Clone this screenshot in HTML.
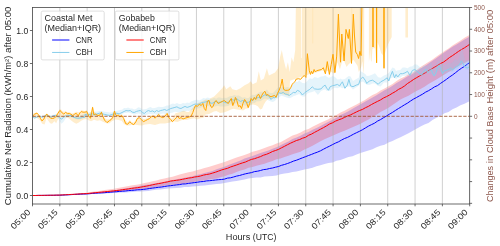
<!DOCTYPE html>
<html><head><meta charset="utf-8"><title>chart</title>
<style>html,body{margin:0;padding:0;background:#fff;overflow:hidden}svg{display:block;will-change:transform}text{font-family:"Liberation Sans",sans-serif}</style>
</head><body>
<svg width="500" height="246" viewBox="0 0 500 246">
<defs><clipPath id="c"><rect x="32.5" y="7.5" width="437.2" height="196.5"/></clipPath></defs>
<rect width="500" height="246" fill="#fff"/>
<g clip-path="url(#c)">
<polygon points="32.5,195.5 36.5,195.4 40.5,195.4 44.5,195.3 48.5,195.2 52.5,195.1 56.5,195.1 60.5,195.0 64.5,194.7 68.5,194.4 72.5,194.2 76.5,193.9 80.5,193.7 84.5,193.4 88.5,193.1 92.5,192.7 96.5,192.2 100.5,191.8 104.5,191.4 108.5,190.9 112.5,190.5 116.5,189.9 120.5,189.3 124.5,188.6 128.5,187.9 132.5,187.3 136.5,186.6 140.5,185.8 144.5,185.1 148.5,184.4 152.5,183.8 156.5,183.1 160.5,182.4 164.5,181.7 168.5,180.8 172.5,180.0 176.5,179.2 180.5,178.4 184.5,177.8 188.5,177.0 192.5,176.2 196.5,175.0 200.5,174.3 204.5,173.0 208.5,172.0 212.5,171.0 216.5,169.3 220.5,167.9 224.5,166.8 228.5,165.0 232.5,163.4 236.5,161.9 240.5,160.5 244.5,158.6 248.5,157.3 252.5,155.9 256.5,154.5 260.5,152.9 264.5,151.7 268.5,150.5 272.5,148.7 276.5,147.3 280.5,145.3 284.5,143.3 288.5,141.5 292.5,139.1 296.5,137.6 300.5,135.8 304.5,133.4 308.5,132.0 312.5,129.7 316.5,128.0 320.5,126.0 324.5,123.7 328.5,121.8 332.5,119.8 336.5,117.7 340.5,115.1 344.5,113.2 348.5,111.2 352.5,108.8 356.5,106.6 360.5,104.2 364.5,102.1 368.5,99.7 372.5,97.5 376.5,95.2 380.5,92.8 384.5,90.3 388.5,88.2 392.5,85.7 396.5,82.9 400.5,80.8 404.5,78.3 408.5,75.7 412.5,74.0 416.5,71.1 420.5,68.6 424.5,66.2 428.5,63.5 432.5,60.8 436.5,58.0 440.5,55.1 444.5,52.3 448.5,49.5 452.5,46.8 456.5,44.6 460.5,42.0 464.5,39.5 468.5,37.2 469.7,36.2 469.7,101.1 468.5,101.7 464.5,103.8 460.5,105.3 456.5,107.4 452.5,109.2 448.5,111.9 444.5,113.3 440.5,116.1 436.5,117.7 432.5,120.1 428.5,122.9 424.5,124.4 420.5,126.6 416.5,128.7 412.5,131.0 408.5,133.3 404.5,135.2 400.5,137.3 396.5,138.9 392.5,140.9 388.5,142.6 384.5,144.8 380.5,145.8 376.5,147.2 372.5,149.2 368.5,150.6 364.5,151.7 360.5,153.0 356.5,154.5 352.5,156.2 348.5,157.1 344.5,158.4 340.5,159.9 336.5,160.7 332.5,162.5 328.5,163.1 324.5,164.0 320.5,165.3 316.5,166.3 312.5,167.7 308.5,168.8 304.5,169.4 300.5,170.6 296.5,171.4 292.5,172.1 288.5,173.1 284.5,173.5 280.5,174.2 276.5,175.4 272.5,176.0 268.5,176.3 264.5,176.4 260.5,177.4 256.5,177.4 252.5,178.1 248.5,178.6 244.5,179.6 240.5,180.3 236.5,181.1 232.5,181.4 228.5,182.3 224.5,183.1 220.5,183.8 216.5,184.0 212.5,184.5 208.5,184.9 204.5,185.6 200.5,185.8 196.5,186.3 192.5,186.6 188.5,187.0 184.5,187.1 180.5,187.8 176.5,188.0 172.5,188.2 168.5,188.6 164.5,188.9 160.5,189.6 156.5,189.8 152.5,190.2 148.5,190.9 144.5,191.2 140.5,191.4 136.5,191.6 132.5,192.1 128.5,192.3 124.5,192.4 120.5,192.6 116.5,192.9 112.5,193.0 108.5,193.3 104.5,193.5 100.5,193.6 96.5,193.8 92.5,194.0 88.5,194.2 84.5,194.4 80.5,194.5 76.5,194.7 72.5,194.9 68.5,195.1 64.5,195.2 60.5,195.4 56.5,195.4 52.5,195.4 48.5,195.4 44.5,195.5 40.5,195.5 36.5,195.5 32.5,195.5" fill="#0000ff" fill-opacity="0.2"/>
<polygon points="32.5,195.5 36.5,195.4 40.5,195.3 44.5,195.2 48.5,195.1 52.5,195.1 56.5,195.0 60.5,194.8 64.5,194.5 68.5,194.2 72.5,193.9 76.5,193.5 80.5,193.2 84.5,192.9 88.5,192.5 92.5,191.8 96.5,191.3 100.5,190.7 104.5,190.1 108.5,189.6 112.5,189.0 116.5,188.2 120.5,187.6 124.5,186.8 128.5,186.0 132.5,185.2 136.5,184.7 140.5,183.9 144.5,183.1 148.5,182.2 152.5,181.3 156.5,180.4 160.5,179.3 164.5,178.6 168.5,177.5 172.5,176.7 176.5,175.6 180.5,174.3 184.5,173.3 188.5,172.2 192.5,171.5 196.5,170.2 200.5,169.2 204.5,167.9 208.5,166.9 212.5,165.7 216.5,164.4 220.5,163.3 224.5,161.9 228.5,160.6 232.5,159.0 236.5,157.6 240.5,156.2 244.5,155.0 248.5,153.4 252.5,151.8 256.5,150.8 260.5,149.5 264.5,148.1 268.5,146.5 272.5,145.2 276.5,143.5 280.5,142.2 284.5,140.0 288.5,137.8 292.5,135.6 296.5,134.3 300.5,132.6 304.5,130.3 308.5,128.9 312.5,126.7 316.5,124.7 320.5,122.8 324.5,121.1 328.5,119.2 332.5,116.8 336.5,115.0 340.5,112.5 344.5,110.7 348.5,108.4 352.5,106.6 356.5,104.6 360.5,102.2 364.5,100.2 368.5,97.5 372.5,95.1 376.5,93.2 380.5,90.6 384.5,88.5 388.5,86.3 392.5,83.9 396.5,81.1 400.5,78.6 404.5,76.8 408.5,74.3 412.5,72.4 416.5,70.1 420.5,67.1 424.5,64.6 428.5,62.0 432.5,59.4 436.5,56.5 440.5,53.7 444.5,50.9 448.5,48.5 452.5,45.6 456.5,42.9 460.5,40.5 464.5,37.8 468.5,35.4 469.7,35.1 469.7,59.9 468.5,60.9 464.5,63.0 460.5,64.9 456.5,67.3 452.5,69.9 448.5,72.1 444.5,74.6 440.5,77.0 436.5,79.6 432.5,81.7 428.5,84.1 424.5,86.8 420.5,89.1 416.5,91.1 412.5,93.3 408.5,95.7 404.5,97.5 400.5,99.4 396.5,102.2 392.5,105.0 388.5,107.8 384.5,110.1 380.5,112.1 376.5,114.7 372.5,116.8 368.5,119.5 364.5,121.6 360.5,123.7 356.5,125.6 352.5,127.3 348.5,129.0 344.5,130.7 340.5,132.3 336.5,134.1 332.5,135.7 328.5,137.4 324.5,139.3 320.5,141.2 316.5,143.6 312.5,145.7 308.5,147.8 304.5,149.6 300.5,151.7 296.5,153.1 292.5,154.2 288.5,155.8 284.5,157.0 280.5,158.4 276.5,159.3 272.5,161.1 268.5,162.3 264.5,163.8 260.5,164.8 256.5,165.7 252.5,166.9 248.5,167.7 244.5,169.5 240.5,170.4 236.5,171.9 232.5,173.7 228.5,174.8 224.5,176.3 220.5,177.2 216.5,178.4 212.5,179.0 208.5,179.6 204.5,180.4 200.5,180.7 196.5,181.5 192.5,182.2 188.5,182.7 184.5,183.4 180.5,183.9 176.5,184.3 172.5,184.8 168.5,185.1 164.5,185.8 160.5,186.4 156.5,187.1 152.5,187.7 148.5,188.2 144.5,188.9 140.5,189.4 136.5,189.7 132.5,190.1 128.5,190.5 124.5,191.0 120.5,191.3 116.5,191.7 112.5,192.1 108.5,192.4 104.5,192.7 100.5,193.0 96.5,193.3 92.5,193.6 88.5,193.9 84.5,194.2 80.5,194.4 76.5,194.5 72.5,194.7 68.5,194.9 64.5,195.1 60.5,195.3 56.5,195.3 52.5,195.4 48.5,195.4 44.5,195.4 40.5,195.4 36.5,195.5 32.5,195.5" fill="#ff0000" fill-opacity="0.2"/>
<path d="M32.50 7.5V204.0M59.83 7.5V204.0M87.15 7.5V204.0M114.47 7.5V204.0M141.80 7.5V204.0M169.12 7.5V204.0M196.45 7.5V204.0M223.78 7.5V204.0M251.10 7.5V204.0M278.42 7.5V204.0M305.75 7.5V204.0M333.07 7.5V204.0M360.40 7.5V204.0M387.72 7.5V204.0M415.05 7.5V204.0M442.38 7.5V204.0M469.70 7.5V204.0" stroke="#b0b0b0" stroke-width="0.6" fill="none"/>
<polyline points="32.5,195.5 35.5,195.5 38.5,195.4 41.5,195.4 44.5,195.4 47.5,195.3 50.5,195.3 53.5,195.3 56.5,195.2 59.5,195.2 62.5,195.1 65.5,194.9 68.5,194.8 71.5,194.6 74.5,194.4 77.5,194.3 80.5,194.1 83.5,194.0 86.5,193.9 89.5,193.7 92.5,193.4 95.5,193.2 98.5,193.0 101.5,192.9 104.5,192.7 107.5,192.4 110.5,192.2 113.5,191.9 116.5,191.7 119.5,191.4 122.5,191.2 125.5,191.0 128.5,190.6 131.5,190.4 134.5,190.2 137.5,189.8 140.5,189.7 143.5,189.4 146.5,189.0 149.5,188.5 152.5,188.1 155.5,187.7 158.5,187.3 161.5,187.0 164.5,186.5 167.5,186.0 170.5,185.7 173.5,185.3 176.5,184.9 179.5,184.6 182.5,184.0 185.5,183.9 188.5,183.4 191.5,183.0 194.5,182.6 197.5,182.2 200.5,181.7 203.5,181.5 206.5,180.9 209.5,180.7 212.5,180.4 215.5,180.0 218.5,179.7 221.5,179.5 224.5,179.1 227.5,178.1 230.5,177.8 233.5,177.0 236.5,176.1 239.5,175.5 242.5,174.6 245.5,173.8 248.5,173.2 251.5,172.6 254.5,171.6 257.5,171.2 260.5,170.5 263.5,169.6 266.5,169.3 269.5,168.5 272.5,168.0 275.5,167.2 278.5,166.5 281.5,165.3 284.5,164.5 287.5,163.5 290.5,162.4 293.5,161.1 296.5,160.2 299.5,159.0 302.5,157.8 305.5,156.7 308.5,155.5 311.5,154.4 314.5,153.2 317.5,152.1 320.5,150.8 323.5,149.2 326.5,147.6 329.5,146.2 332.5,144.6 335.5,143.1 338.5,141.8 341.5,140.1 344.5,138.5 347.5,137.4 350.5,135.8 353.5,134.2 356.5,132.7 359.5,131.3 362.5,129.7 365.5,127.9 368.5,126.1 371.5,124.6 374.5,123.2 377.5,121.1 380.5,119.6 383.5,117.7 386.5,116.0 389.5,114.1 392.5,112.4 395.5,110.4 398.5,108.5 401.5,106.7 404.5,104.8 407.5,103.1 410.5,101.0 413.5,99.1 416.5,97.5 419.5,95.8 422.5,94.2 425.5,92.2 428.5,90.7 431.5,88.9 434.5,86.9 437.5,85.6 440.5,83.4 443.5,81.4 446.5,79.3 449.5,77.0 452.5,75.0 455.5,72.7 458.5,70.3 461.5,68.2 464.5,66.4 467.5,64.0 469.7,62.7" fill="none" stroke="#0000ff" stroke-width="1.0" stroke-linejoin="round"/>
<polyline points="32.5,195.5 35.5,195.5 38.5,195.4 41.5,195.4 44.5,195.3 47.5,195.3 50.5,195.2 53.5,195.2 56.5,195.1 59.5,195.1 62.5,194.9 65.5,194.8 68.5,194.6 71.5,194.4 74.5,194.3 77.5,194.1 80.5,193.9 83.5,193.7 86.5,193.6 89.5,193.3 92.5,193.0 95.5,192.7 98.5,192.4 101.5,192.1 104.5,191.8 107.5,191.5 110.5,191.2 113.5,190.9 116.5,190.5 119.5,190.2 122.5,189.7 125.5,189.3 128.5,188.9 131.5,188.4 134.5,188.0 137.5,187.7 140.5,187.2 143.5,186.6 146.5,186.1 149.5,185.5 152.5,184.8 155.5,184.2 158.5,183.6 161.5,183.1 164.5,182.4 167.5,181.9 170.5,181.1 173.5,180.7 176.5,180.3 179.5,179.9 182.5,179.3 185.5,178.7 188.5,178.1 191.5,177.7 194.5,177.0 197.5,176.6 200.5,176.0 203.5,175.1 206.5,174.5 209.5,174.0 212.5,173.1 215.5,172.2 218.5,171.1 221.5,170.0 224.5,169.1 227.5,168.3 230.5,167.0 233.5,166.0 236.5,165.0 239.5,163.9 242.5,162.9 245.5,162.0 248.5,160.6 251.5,159.4 254.5,158.7 257.5,157.6 260.5,156.6 263.5,155.2 266.5,154.3 269.5,153.0 272.5,151.5 275.5,150.5 278.5,149.4 281.5,147.8 284.5,146.3 287.5,144.7 290.5,143.2 293.5,141.8 296.5,140.5 299.5,139.6 302.5,138.2 305.5,137.3 308.5,135.3 311.5,134.1 314.5,132.4 317.5,130.8 320.5,129.2 323.5,127.6 326.5,125.9 329.5,124.0 332.5,122.8 335.5,121.1 338.5,119.9 341.5,118.8 344.5,117.4 347.5,116.0 350.5,114.9 353.5,113.4 356.5,111.9 359.5,110.5 362.5,109.4 365.5,107.7 368.5,106.3 371.5,104.5 374.5,102.9 377.5,101.4 380.5,99.9 383.5,98.0 386.5,96.6 389.5,95.0 392.5,93.2 395.5,91.5 398.5,89.4 401.5,87.9 404.5,86.0 407.5,83.5 410.5,81.6 413.5,79.5 416.5,77.7 419.5,76.0 422.5,74.3 425.5,72.7 428.5,70.7 431.5,69.0 434.5,67.2 437.5,65.4 440.5,63.5 443.5,62.1 446.5,59.9 449.5,57.5 452.5,55.6 455.5,53.5 458.5,51.4 461.5,49.5 464.5,47.8 467.5,45.8 469.7,44.3" fill="none" stroke="#ff0000" stroke-width="1.0" stroke-linejoin="round"/>
<polygon points="32.9,116.6 34.7,116.5 36.5,116.4 38.7,115.8 40.5,115.8 42.8,115.6 45.0,114.8 46.8,114.6 49.0,115.1 51.3,115.4 53.0,114.8 55.7,114.6 58.0,115.2 59.8,116.7 61.5,116.9 63.8,115.7 65.6,115.0 67.8,114.3 70.0,114.4 72.0,114.3 72.7,114.5 75.1,115.4 77.6,116.0 80.0,115.7 82.4,114.4 84.9,113.6 85.0,113.5 87.4,112.9 89.9,112.0 92.3,112.2 94.8,111.8 97.2,111.6 99.6,111.1 102.1,111.3 104.5,111.8 107.0,112.1 109.4,112.6 111.8,112.2 114.3,111.3 116.7,110.9 119.1,110.2 120.0,110.1 122.0,109.7 124.1,108.1 126.1,108.2 128.1,107.5 130.2,108.4 132.2,108.5 134.2,109.4 136.3,108.8 138.3,107.3 140.3,107.8 142.4,109.4 144.4,109.2 146.4,109.1 148.5,107.7 150.5,107.1 152.5,108.2 154.6,108.0 156.6,107.6 158.6,106.8 160.7,106.9 162.7,106.9 164.7,106.6 166.7,105.6 168.8,105.4 170.8,104.3 172.8,103.5 174.9,103.9 176.9,103.1 178.9,103.9 181.0,103.9 183.0,103.1 185.0,103.4 187.1,102.4 189.1,103.0 191.1,101.4 193.2,100.8 195.2,100.0 197.2,99.8 199.3,100.4 201.3,99.5 203.3,98.1 205.4,98.5 207.4,97.5 209.4,98.1 210.0,98.8 212.0,98.7 214.1,97.7 216.1,98.8 218.1,97.5 220.2,97.6 222.2,98.3 224.2,97.8 226.3,97.9 228.3,97.0 230.3,95.9 232.4,96.1 234.4,94.9 236.4,95.7 238.5,95.6 240.5,96.4 242.5,97.8 244.6,97.3 246.6,98.0 248.6,98.1 250.7,96.1 252.7,94.7 254.7,95.1 256.7,94.0 258.8,92.6 260.8,91.7 262.8,91.8 264.9,91.2 266.9,89.6 268.9,92.5 271.0,93.0 273.0,93.0 275.0,90.9 277.1,88.6 279.1,86.8 281.1,87.7 283.2,86.5 285.2,87.7 287.2,87.1 289.3,87.7 291.3,85.9 293.3,83.8 295.4,81.7 297.4,81.9 299.4,79.9 300.0,81.2 302.4,82.9 304.9,83.3 307.3,80.9 309.8,78.2 312.2,79.0 314.6,76.9 317.9,77.9 321.1,76.6 323.6,76.3 325.2,75.2 326.8,76.8 328.5,77.8 330.1,77.4 332.5,76.0 335.0,76.9 337.4,79.5 339.8,79.2 340.0,78.4 342.4,79.5 344.9,79.0 347.3,77.0 348.9,76.0 350.6,76.4 353.0,81.0 356.3,78.9 358.7,77.7 360.3,71.0 362.8,72.6 365.2,74.0 366.8,76.0 369.3,75.7 372.5,74.4 375.0,73.2 378.2,77.3 380.7,77.8 383.9,75.4 387.2,74.2 388.8,73.0 390.4,70.6 392.4,67.6 394.5,68.3 396.1,71.1 397.7,70.3 400.2,69.9 402.6,67.4 405.0,67.5 407.5,68.3 409.9,66.7 412.4,66.3 414.8,64.3 417.2,64.8 421.3,68.3 423.0,65.7 424.6,65.2 426.2,66.1 427.8,66.1 429.5,63.8 431.1,61.9 432.7,67.4 434.3,68.2 436.0,64.5 437.6,61.1 439.2,60.3 440.9,64.0 442.5,64.0 444.1,65.8 446.5,64.1 449.0,62.3 450.6,63.5 452.2,62.5 455.5,58.8 457.5,60.8 459.4,56.9 461.4,46.4 463.3,53.6 465.3,60.6 467.2,60.3 469.6,60.2 469.6,69.7 467.2,69.8 465.3,69.5 463.3,66.6 461.4,65.6 459.4,67.1 457.5,69.4 455.5,69.1 452.2,72.3 450.6,71.7 449.0,71.7 446.5,73.5 444.1,74.7 442.5,74.4 440.9,71.9 439.2,70.7 437.6,71.5 436.0,75.3 434.3,76.8 432.7,75.9 431.1,74.2 429.5,73.5 427.8,73.4 426.2,73.6 424.6,73.4 423.0,75.3 421.3,76.6 417.2,73.3 414.8,72.9 412.4,74.3 409.9,75.2 407.5,75.5 405.0,75.7 402.6,75.8 400.2,77.7 397.7,77.7 396.1,79.0 394.5,77.5 392.4,77.5 390.4,78.6 388.8,80.5 387.2,82.5 383.9,82.6 380.7,86.4 378.2,86.0 375.0,83.4 372.5,83.6 369.3,85.0 366.8,84.8 365.2,83.4 362.8,81.6 360.3,82.6 358.7,85.7 356.3,87.2 353.0,89.6 350.6,87.3 348.9,86.2 347.3,87.1 344.9,87.4 342.4,88.3 340.0,87.1 339.8,87.2 337.4,88.3 335.0,87.8 332.5,88.7 330.1,90.9 328.5,90.7 326.8,90.9 325.2,89.4 323.6,89.7 321.1,91.0 317.9,95.0 314.6,90.9 312.2,91.9 309.8,92.5 307.3,93.6 304.9,96.4 302.4,96.6 300.0,95.1 299.4,94.1 297.4,94.8 295.4,95.5 293.3,96.3 291.3,97.4 289.3,98.2 287.2,97.7 285.2,97.0 283.2,96.3 281.1,95.7 279.1,97.6 277.1,98.6 275.0,100.7 273.0,102.0 271.0,101.5 268.9,100.7 266.9,99.0 264.9,98.5 262.8,99.4 260.8,101.1 258.8,101.3 256.7,101.2 254.7,102.9 252.7,102.8 250.7,105.0 248.6,104.9 246.6,105.8 244.6,105.6 242.5,105.0 240.5,104.4 238.5,103.3 236.4,103.3 234.4,103.7 232.4,104.5 230.3,104.4 228.3,106.1 226.3,106.3 224.2,106.6 222.2,106.4 220.2,106.4 218.1,105.7 216.1,106.3 214.1,106.6 212.0,106.9 210.0,106.6 209.4,106.1 207.4,106.2 205.4,106.0 203.3,106.9 201.3,107.5 199.3,108.2 197.2,108.4 195.2,108.5 193.2,109.5 191.1,110.2 189.1,111.0 187.1,110.8 185.0,111.6 183.0,112.1 181.0,111.9 178.9,112.4 176.9,112.0 174.9,111.7 172.8,112.4 170.8,112.9 168.8,113.5 166.7,113.9 164.7,113.7 162.7,113.6 160.7,114.1 158.6,114.5 156.6,114.8 154.6,114.1 152.5,114.5 150.5,114.1 148.5,114.0 146.4,114.9 144.4,115.7 142.4,115.1 140.3,114.1 138.3,113.6 136.3,114.1 134.2,114.5 132.2,113.7 130.2,113.1 128.1,112.5 126.1,113.1 124.1,113.1 122.0,114.6 120.0,114.8 119.1,114.7 116.7,115.4 114.3,115.4 111.8,116.2 109.4,116.7 107.0,116.3 104.5,116.2 102.1,115.2 99.6,115.0 97.2,115.5 94.8,116.0 92.3,116.1 89.9,115.8 87.4,116.7 85.0,117.6 84.9,117.5 82.4,118.1 80.0,119.4 77.6,119.4 75.1,118.9 72.7,117.8 72.0,117.6 70.0,117.5 67.8,117.3 65.6,118.4 63.8,121.5 61.5,123.8 59.8,121.3 58.0,118.4 55.7,117.2 53.0,117.5 51.3,117.8 49.0,117.4 46.8,116.8 45.0,117.0 42.8,117.7 40.5,117.7 38.7,117.8 36.5,118.1 34.7,118.2 32.9,118.3" fill="#87ceeb" fill-opacity="0.22"/>
<polygon points="32.9,113.8 34.7,113.0 36.9,112.2 38.7,114.0 40.5,117.0 41.9,118.7 43.7,116.9 45.4,114.5 46.8,113.2 48.1,114.6 50.4,116.6 52.2,116.5 54.4,116.3 56.2,114.3 58.0,111.9 59.8,109.3 61.1,109.6 62.4,111.3 63.8,111.7 65.6,111.4 67.4,112.1 69.6,112.0 72.0,113.8 72.7,113.3 74.5,112.8 76.3,111.7 78.2,112.2 80.0,111.9 81.2,110.0 83.0,110.5 84.9,111.2 85.0,111.1 86.8,110.1 88.7,114.4 90.5,112.2 91.7,111.1 92.6,105.7 93.8,111.2 95.4,112.9 97.2,114.1 99.0,113.5 100.2,113.1 101.5,110.8 102.7,114.1 104.5,117.9 107.0,119.4 109.4,119.2 111.2,117.9 113.0,113.8 114.5,109.9 115.5,113.2 117.0,112.7 118.5,114.3 119.8,114.8 120.0,114.6 122.0,114.3 123.7,117.5 125.7,120.5 127.7,122.4 129.8,119.9 131.8,122.3 133.8,122.4 135.9,119.9 137.3,117.6 139.3,116.2 141.3,118.4 143.4,118.9 145.4,118.9 147.4,118.0 149.5,117.4 151.5,115.0 153.5,115.1 155.0,116.1 156.6,115.6 158.6,113.1 160.2,114.8 162.7,115.6 164.7,114.5 166.3,112.9 167.2,112.5 168.8,115.3 170.8,118.7 172.4,118.5 175.4,113.2 179.0,112.6 182.1,111.3 183.9,110.7 187.0,112.0 188.8,112.0 191.2,109.5 193.7,106.5 196.1,104.4 197.3,103.2 202.2,101.3 205.9,99.5 209.5,100.1 210.0,98.5 214.1,96.4 218.1,92.4 222.2,88.3 224.2,85.2 226.3,89.3 230.3,86.3 232.4,89.3 236.4,90.3 240.5,88.3 244.6,85.2 248.6,83.2 250.7,81.2 252.7,84.2 256.7,82.2 258.8,71.3 260.8,80.5 263.9,78.5 266.9,68.3 268.9,75.4 271.0,74.4 275.0,72.4 278.1,68.3 280.0,57.3 281.8,50.0 283.7,59.8 286.1,69.5 287.9,62.2 289.8,72.0 291.6,57.3 293.4,62.2 295.2,50.0 295.9,3.7 300.9,-50.0 301.1,58.0 301.7,58.0 301.9,-50.0 364.2,-50.0 364.2,61.0 363.6,74.4 362.4,61.0 361.2,67.1 358.8,72.0 357.6,65.9 355.1,62.2 353.3,59.8 350.9,62.2 348.4,64.6 346.6,67.1 344.1,61.0 342.3,61.0 339.9,69.5 337.4,62.2 335.0,73.2 333.7,73.3 330.7,71.7 327.6,70.9 322.5,70.5 316.4,72.5 310.3,73.5 306.3,75.6 302.2,76.6 296.1,78.6 290.0,80.7 289.3,96.4 287.2,95.4 283.2,94.4 280.0,93.5 277.3,95.4 274.9,97.8 272.4,99.0 270.0,98.4 267.6,99.6 265.7,101.5 263.9,104.5 262.1,108.8 260.2,109.4 257.8,106.3 255.4,105.1 252.9,104.5 250.5,105.1 248.7,108.2 245.6,108.8 243.2,110.6 240.7,110.0 237.1,109.4 233.4,108.8 231.0,109.4 227.3,111.2 223.7,112.4 220.0,113.0 218.8,112.2 216.3,111.0 213.9,111.6 211.5,112.8 209.0,114.0 205.4,114.6 203.5,117.7 200.5,118.3 196.8,119.5 194.4,118.3 190.7,118.9 187.1,120.1 182.2,120.1 177.3,122.0 173.7,121.3 170.0,122.6 165.0,123.5 160.0,123.6 155.0,125.0 150.0,124.0 145.0,124.6 142.0,125.4 138.7,125.2 133.8,124.4 129.0,125.6 126.5,125.4 124.0,124.0 121.6,120.7 118.5,120.0 115.5,119.5 111.8,121.3 109.5,123.2 107.0,123.6 103.3,122.0 100.0,120.2 97.2,120.7 94.0,119.8 91.1,121.3 88.5,120.3 86.1,118.9 83.7,119.5 81.2,120.7 78.8,122.6 76.3,123.8 73.9,122.6 71.5,120.7 69.0,118.5 66.6,117.5 63.0,117.2 59.3,117.5 57.8,119.5 56.2,123.2 54.4,121.3 52.0,123.8 50.1,123.2 48.3,120.7 46.5,118.3 44.6,124.4 42.2,123.8 40.4,120.7 38.5,119.0 36.0,117.4 32.5,117.4" fill="#ffa500" fill-opacity="0.2"/>
<polygon points="368.9,-50.0 368.9,62.0 369.5,58.0 370.2,49.5 370.8,60.0 371.6,62.0 372.4,49.0 373.3,48.3 375.1,48.3 375.9,58.0 376.5,63.0 377.1,50.0 377.6,42.2 379.4,47.0 381.2,53.2 382.4,54.4 383.4,56.0 384.0,68.0 384.6,54.4 386.1,49.5 387.9,44.6 391.6,37.3 391.7,37.0 391.7,-50.0" fill="#ffa500" fill-opacity="0.2"/>
<polygon points="405.4,-50.0 405.4,37.6 408.0,37.6 408.0,-50.0" fill="#ffa500" fill-opacity="0.2"/>
<rect x="312.4" y="0" width="0.8" height="43.4" fill="#ffa500" fill-opacity="0.12"/>
<rect x="351.4" y="0" width="0.8" height="46" fill="#ffa500" fill-opacity="0.12"/>
<polyline points="32.9,116.7 34.7,118.1 36.5,117.2 38.7,116.3 40.5,116.7 42.8,117.2 45.0,115.8 46.8,114.9 49.0,116.3 51.3,117.2 53.0,115.8 55.7,115.4 58.0,116.3 59.8,118.1 61.5,119.0 63.8,117.2 65.6,115.8 67.8,115.8 70.0,115.4 72.0,115.8 72.7,116.8 75.1,117.7 77.6,118.3 80.0,118.0 82.4,117.7 84.9,117.1 85.0,114.4 87.4,115.0 89.9,114.4 92.3,113.8 94.8,115.0 97.2,113.8 99.6,113.2 102.1,113.8 104.5,114.4 107.0,115.0 109.4,115.4 111.8,114.4 114.3,113.8 116.7,113.2 119.1,113.8 120.0,113.5 122.0,112.5 124.1,111.5 126.1,110.5 128.1,110.9 130.2,110.5 132.2,112.1 134.2,112.5 136.3,111.5 138.3,110.9 140.3,110.5 142.4,112.5 144.4,113.5 146.4,111.5 148.5,110.5 150.5,111.5 152.5,110.9 154.6,112.1 156.6,110.5 158.6,111.5 160.7,110.5 162.7,110.1 164.7,109.5 166.7,110.5 168.8,109.5 170.8,108.5 172.8,108.0 174.9,107.4 176.9,106.8 178.9,108.0 181.0,108.5 183.0,107.4 185.0,106.4 187.1,107.4 189.1,106.8 191.1,106.0 193.2,104.8 195.2,104.0 197.2,104.4 199.3,104.0 201.3,102.8 203.3,102.4 205.4,102.0 207.4,101.3 209.4,102.0 210.0,102.5 212.0,103.5 214.1,102.1 216.1,101.5 218.1,102.5 220.2,102.1 222.2,101.5 224.2,102.1 226.3,102.9 228.3,102.1 230.3,100.5 232.4,99.5 234.4,100.5 236.4,98.5 238.5,100.1 240.5,101.5 242.5,100.5 244.6,101.5 246.6,102.5 248.6,102.1 250.7,100.5 252.7,100.1 254.7,98.5 256.7,98.0 258.8,97.4 260.8,98.0 262.8,96.0 264.9,94.8 266.9,95.4 268.9,96.0 271.0,99.5 273.0,97.4 275.0,98.0 277.1,94.8 279.1,92.8 281.1,93.4 283.2,92.4 285.2,94.0 287.2,94.4 289.3,95.4 291.3,94.0 293.3,92.4 295.4,92.8 297.4,90.3 299.4,91.3 300.0,91.7 302.4,95.0 304.9,92.5 307.3,90.9 309.8,89.3 312.2,86.8 314.6,88.9 317.9,89.3 321.1,88.9 323.6,86.0 325.2,85.2 326.8,88.5 328.5,90.1 330.1,86.8 332.5,85.7 335.0,85.2 337.4,84.4 339.8,86.0 340.0,85.1 342.4,81.8 344.9,88.3 347.3,85.1 348.9,79.4 350.6,85.9 353.0,86.7 356.3,85.1 358.7,84.3 360.3,79.4 362.8,77.0 365.2,80.2 366.8,83.5 369.3,81.0 372.5,80.2 375.0,81.8 378.2,84.3 380.7,81.8 383.9,80.2 387.2,77.8 388.8,81.0 390.4,76.1 392.4,71.3 394.5,77.8 396.1,74.5 397.7,77.0 400.2,73.7 402.6,73.7 405.0,72.9 407.5,71.3 409.9,75.3 412.4,70.4 414.8,69.6 417.2,71.3 421.3,75.1 423.0,72.6 424.6,70.2 426.2,69.4 427.8,72.6 429.5,71.0 431.1,69.4 432.7,73.5 434.3,75.9 436.0,72.6 437.6,67.8 439.2,65.3 440.9,69.4 442.5,73.5 444.1,71.0 446.5,70.2 449.0,69.4 450.6,67.8 452.2,70.2 455.5,67.3 457.5,66.0 459.4,64.7 461.4,60.8 463.3,64.1 465.3,67.3 467.2,68.0 469.6,66.7" fill="none" stroke="#87ceeb" stroke-width="1.0" stroke-linejoin="round"/>
<polyline points="32.9,115.8 34.7,114.1 36.9,113.2 38.7,114.9 40.5,118.5 41.9,120.8 43.7,119.4 45.4,115.8 46.8,114.1 48.1,115.8 50.4,118.1 52.2,118.5 54.4,118.1 56.2,116.3 58.0,113.2 59.8,110.5 61.1,111.4 62.4,113.2 63.8,114.1 65.6,112.3 67.4,113.6 69.6,113.6 72.0,114.9 72.7,115.9 74.5,114.0 76.3,113.4 78.2,115.9 80.0,112.8 81.2,111.6 83.0,112.2 84.9,112.2 85.0,112.2 86.8,111.6 88.7,115.9 90.5,118.3 91.7,112.2 92.6,107.3 93.8,114.6 95.4,114.0 97.2,115.2 99.0,115.6 100.2,114.6 101.5,112.2 102.7,115.9 104.5,120.1 107.0,122.6 109.4,120.7 111.2,119.5 113.0,117.1 114.5,111.0 115.5,114.6 117.0,115.9 118.5,115.2 119.8,117.1 120.0,116.6 122.0,115.6 123.7,118.6 125.7,123.7 127.7,124.3 129.8,121.7 131.8,123.7 133.8,124.7 135.9,121.7 137.3,118.6 139.3,117.6 141.3,119.6 143.4,121.7 145.4,120.7 147.4,119.6 149.5,118.6 151.5,116.6 153.5,116.2 155.0,118.2 156.6,116.6 158.6,114.6 160.2,116.6 162.7,117.6 164.7,116.6 166.3,114.6 167.2,113.5 168.8,117.6 170.8,119.6 172.4,121.7 174.5,119.6 176.5,117.6 177.9,116.2 179.3,118.6 181.0,117.6 183.0,119.0 185.0,118.2 187.1,117.6 189.1,117.0 191.1,116.2 192.8,112.5 194.2,108.5 195.6,105.4 197.2,106.4 199.3,104.4 201.3,105.4 202.9,103.4 204.3,108.5 205.8,110.5 207.4,101.3 209.0,100.3 210.0,104.6 211.6,107.6 213.0,106.6 214.5,102.5 216.1,100.5 218.1,103.5 220.2,102.5 222.2,101.5 224.2,100.5 226.3,102.1 228.3,103.5 229.9,100.5 231.3,98.5 232.8,105.6 234.4,101.5 235.4,97.4 236.8,100.5 238.5,106.6 240.1,105.6 241.5,108.6 242.9,103.5 244.6,99.5 246.6,102.5 248.2,107.6 249.6,103.5 251.1,98.5 252.7,100.5 254.3,97.4 255.7,99.5 257.2,95.4 258.8,94.4 260.4,98.5 261.8,95.4 263.3,92.8 264.9,91.3 266.5,95.4 267.9,94.4 269.3,96.0 271.0,96.8 273.0,96.0 274.6,95.4 276.1,97.4 277.5,93.4 279.1,90.3 280.7,86.3 282.2,79.1 283.6,89.3 285.2,90.3 287.2,90.3 289.3,89.9 290.9,87.3 292.3,84.2 293.7,82.6 295.4,81.2 295.9,79.3 298.3,78.7 300.7,79.3 302.6,76.8 304.4,75.6 305.9,77.4 307.4,53.7 309.3,70.7 310.5,74.4 311.5,71.3 312.7,73.8 314.1,69.5 315.4,72.0 316.6,70.7 319.0,70.1 321.5,69.5 323.3,67.7 325.4,73.8 327.3,61.6 329.4,74.4 331.2,64.6 333.0,54.3 334.9,72.6 336.7,56.1 338.4,14.1 340.5,62.2 341.8,34.0 344.1,61.0 346.0,29.4 347.2,34.0 348.3,38.5 349.4,29.4 350.9,53.0 351.5,63.4 353.3,14.1 354.5,36.0 355.7,52.0 357.4,54.6 358.6,58.5 359.9,51.3 361.1,55.6 362.3,-20.0" fill="none" stroke="#ffa500" stroke-width="1.0" stroke-linejoin="round"/>
<polyline points="372.8,-20.0 373.0,47.0 373.2,-20.0" fill="none" stroke="#ffa500" stroke-width="1.0" stroke-linejoin="round"/>
<polyline points="376.4,-20.0 376.6,62.8 376.8,-20.0" fill="none" stroke="#ffa500" stroke-width="1.0" stroke-linejoin="round"/>
<polyline points="383.8,-20.0 384.0,68.3 384.2,-20.0" fill="none" stroke="#ffa500" stroke-width="1.0" stroke-linejoin="round"/>
<path d="M32.5 116.3H469.7" stroke="#a0522d" stroke-width="0.85" stroke-dasharray="3.3 1.486" fill="none"/>
</g>
<rect x="32.5" y="7.5" width="437.2" height="196.5" fill="none" stroke="#464646" stroke-width="0.8"/>
<path d="M32.50 204.0v2.3M59.83 204.0v2.3M87.15 204.0v2.3M114.47 204.0v2.3M141.80 204.0v2.3M169.12 204.0v2.3M196.45 204.0v2.3M223.78 204.0v2.3M251.10 204.0v2.3M278.42 204.0v2.3M305.75 204.0v2.3M333.07 204.0v2.3M360.40 204.0v2.3M387.72 204.0v2.3M415.05 204.0v2.3M442.38 204.0v2.3M469.70 204.0v2.3M32.5 195.50h-2.6M32.5 162.50h-2.6M32.5 129.50h-2.6M32.5 96.50h-2.6M32.5 63.50h-2.6M32.5 30.50h-2.6M469.7 203.34h2.4M469.7 181.58h2.4M469.7 159.82h2.4M469.7 138.06h2.4M469.7 116.30h2.4M469.7 94.54h2.4M469.7 72.78h2.4M469.7 51.02h2.4M469.7 29.26h2.4M469.7 7.50h2.4" stroke="#464646" stroke-width="0.8" fill="none"/>
<g font-family="Liberation Sans, sans-serif" fill="#262626" opacity="0.999">
<text x="28.3" y="198.5" font-size="8.3" text-anchor="end" textLength="12" lengthAdjust="spacingAndGlyphs">0.0</text>
<text x="28.3" y="165.5" font-size="8.3" text-anchor="end" textLength="12" lengthAdjust="spacingAndGlyphs">0.2</text>
<text x="28.3" y="132.5" font-size="8.3" text-anchor="end" textLength="12" lengthAdjust="spacingAndGlyphs">0.4</text>
<text x="28.3" y="99.5" font-size="8.3" text-anchor="end" textLength="12" lengthAdjust="spacingAndGlyphs">0.6</text>
<text x="28.3" y="66.5" font-size="8.3" text-anchor="end" textLength="12" lengthAdjust="spacingAndGlyphs">0.8</text>
<text x="28.3" y="33.5" font-size="8.3" text-anchor="end" textLength="12" lengthAdjust="spacingAndGlyphs">1.0</text>
<text transform="translate(31.0,212.8) rotate(-45)" font-size="8.3" text-anchor="end" textLength="24" lengthAdjust="spacingAndGlyphs">05:00</text>
<text transform="translate(58.3,212.8) rotate(-45)" font-size="8.3" text-anchor="end" textLength="24" lengthAdjust="spacingAndGlyphs">05:15</text>
<text transform="translate(85.7,212.8) rotate(-45)" font-size="8.3" text-anchor="end" textLength="24" lengthAdjust="spacingAndGlyphs">05:30</text>
<text transform="translate(113.0,212.8) rotate(-45)" font-size="8.3" text-anchor="end" textLength="24" lengthAdjust="spacingAndGlyphs">05:45</text>
<text transform="translate(140.3,212.8) rotate(-45)" font-size="8.3" text-anchor="end" textLength="24" lengthAdjust="spacingAndGlyphs">06:00</text>
<text transform="translate(167.6,212.8) rotate(-45)" font-size="8.3" text-anchor="end" textLength="24" lengthAdjust="spacingAndGlyphs">06:15</text>
<text transform="translate(194.9,212.8) rotate(-45)" font-size="8.3" text-anchor="end" textLength="24" lengthAdjust="spacingAndGlyphs">06:30</text>
<text transform="translate(222.3,212.8) rotate(-45)" font-size="8.3" text-anchor="end" textLength="24" lengthAdjust="spacingAndGlyphs">06:45</text>
<text transform="translate(249.6,212.8) rotate(-45)" font-size="8.3" text-anchor="end" textLength="24" lengthAdjust="spacingAndGlyphs">07:00</text>
<text transform="translate(276.9,212.8) rotate(-45)" font-size="8.3" text-anchor="end" textLength="24" lengthAdjust="spacingAndGlyphs">07:15</text>
<text transform="translate(304.2,212.8) rotate(-45)" font-size="8.3" text-anchor="end" textLength="24" lengthAdjust="spacingAndGlyphs">07:30</text>
<text transform="translate(331.6,212.8) rotate(-45)" font-size="8.3" text-anchor="end" textLength="24" lengthAdjust="spacingAndGlyphs">07:45</text>
<text transform="translate(358.9,212.8) rotate(-45)" font-size="8.3" text-anchor="end" textLength="24" lengthAdjust="spacingAndGlyphs">08:00</text>
<text transform="translate(386.2,212.8) rotate(-45)" font-size="8.3" text-anchor="end" textLength="24" lengthAdjust="spacingAndGlyphs">08:15</text>
<text transform="translate(413.6,212.8) rotate(-45)" font-size="8.3" text-anchor="end" textLength="24" lengthAdjust="spacingAndGlyphs">08:30</text>
<text transform="translate(440.9,212.8) rotate(-45)" font-size="8.3" text-anchor="end" textLength="24" lengthAdjust="spacingAndGlyphs">08:45</text>
<text transform="translate(468.2,212.8) rotate(-45)" font-size="8.3" text-anchor="end" textLength="24" lengthAdjust="spacingAndGlyphs">09:00</text>
<text x="225.81" y="239.7" font-size="8.3" textLength="24.42" lengthAdjust="spacingAndGlyphs">Hours</text>
<text x="252.88" y="239.7" font-size="8.3" textLength="23.51" lengthAdjust="spacingAndGlyphs">(UTC)</text>
<text transform="translate(11.4,205.22) rotate(-90)" font-size="8.3" textLength="47.56" lengthAdjust="spacingAndGlyphs">Cumulative</text>
<text transform="translate(11.4,155.01) rotate(-90)" font-size="8.3" textLength="14.62" lengthAdjust="spacingAndGlyphs">Net</text>
<text transform="translate(11.4,137.73) rotate(-90)" font-size="8.3" textLength="39.58" lengthAdjust="spacingAndGlyphs">Radiation</text>
<text transform="translate(11.4,95.50) rotate(-90)" font-size="8.3" textLength="39.76" lengthAdjust="spacingAndGlyphs">(KWh/m²)</text>
<text transform="translate(11.4,53.09) rotate(-90)" font-size="8.3" textLength="19.86" lengthAdjust="spacingAndGlyphs">after</text>
<text transform="translate(11.4,30.59) rotate(-90)" font-size="8.3" textLength="24.01" lengthAdjust="spacingAndGlyphs">05:00</text>
</g>
<g font-family="Liberation Sans, sans-serif" fill="#8c564b" opacity="0.999">
<text x="473.9" y="118.6" font-size="6.4" textLength="3.6" lengthAdjust="spacingAndGlyphs">0</text>
<text x="473.9" y="96.8" font-size="6.4" textLength="10.9" lengthAdjust="spacingAndGlyphs">100</text>
<text x="473.9" y="75.1" font-size="6.4" textLength="10.9" lengthAdjust="spacingAndGlyphs">200</text>
<text x="473.9" y="53.3" font-size="6.4" textLength="10.9" lengthAdjust="spacingAndGlyphs">300</text>
<text x="473.9" y="31.6" font-size="6.4" textLength="10.9" lengthAdjust="spacingAndGlyphs">400</text>
<text x="473.9" y="9.8" font-size="6.4" textLength="10.9" lengthAdjust="spacingAndGlyphs">500</text>
<text transform="translate(493.4,202.11) rotate(-90)" font-size="8.3" textLength="36.25" lengthAdjust="spacingAndGlyphs">Changes</text>
<text transform="translate(493.4,163.21) rotate(-90)" font-size="8.3" textLength="7.60" lengthAdjust="spacingAndGlyphs">in</text>
<text transform="translate(493.4,152.96) rotate(-90)" font-size="8.3" textLength="23.81" lengthAdjust="spacingAndGlyphs">Cloud</text>
<text transform="translate(493.4,126.51) rotate(-90)" font-size="8.3" textLength="20.29" lengthAdjust="spacingAndGlyphs">Base</text>
<text transform="translate(493.4,103.57) rotate(-90)" font-size="8.3" textLength="27.55" lengthAdjust="spacingAndGlyphs">Height</text>
<text transform="translate(493.4,73.37) rotate(-90)" font-size="8.3" textLength="14.62" lengthAdjust="spacingAndGlyphs">(m)</text>
<text transform="translate(493.4,56.10) rotate(-90)" font-size="8.3" textLength="19.86" lengthAdjust="spacingAndGlyphs">after</text>
<text transform="translate(493.4,33.59) rotate(-90)" font-size="8.3" textLength="24.01" lengthAdjust="spacingAndGlyphs">05:00</text>
</g>
<rect x="41.2" y="11.1" width="63.0" height="48.8" rx="1.6" ry="1.6" fill="#fff" fill-opacity="0.8" stroke="#cccccc" stroke-opacity="0.8" stroke-width="0.8"/>
<g font-family="Liberation Sans, sans-serif" fill="#262626" font-size="8.3" opacity="0.999">
<text x="44.6" y="21.4" textLength="48.0" lengthAdjust="spacingAndGlyphs">Coastal Met</text>
<text x="44.6" y="30.5" textLength="56.5" lengthAdjust="spacingAndGlyphs">(Median+IQR)</text>
<text x="75.7" y="42.8" textLength="16.8" lengthAdjust="spacingAndGlyphs">CNR</text>
<text x="75.7" y="55.0" textLength="16.8" lengthAdjust="spacingAndGlyphs">CBH</text>
</g>
<path d="M52.1 40.0H69.4" stroke="#6b6bff" stroke-width="1.7"/>
<path d="M52.1 52.45H69.4" stroke="#87ceeb" stroke-width="1.0"/>
<rect x="115.2" y="11.1" width="63.7" height="48.8" rx="1.6" ry="1.6" fill="#fff" fill-opacity="0.8" stroke="#cccccc" stroke-opacity="0.8" stroke-width="0.8"/>
<g font-family="Liberation Sans, sans-serif" fill="#262626" font-size="8.3" opacity="0.999">
<text x="118.7" y="21.4" textLength="36.2" lengthAdjust="spacingAndGlyphs">Gobabeb</text>
<text x="118.7" y="30.5" textLength="56.5" lengthAdjust="spacingAndGlyphs">(Median+IQR)</text>
<text x="149.8" y="42.8" textLength="16.8" lengthAdjust="spacingAndGlyphs">CNR</text>
<text x="149.8" y="55.0" textLength="16.8" lengthAdjust="spacingAndGlyphs">CBH</text>
</g>
<path d="M126.4 40.0H143.7" stroke="#ff6b6b" stroke-width="1.7"/>
<path d="M126.4 52.45H143.7" stroke="#ffa500" stroke-width="1.0"/>
</svg>
</body></html>
